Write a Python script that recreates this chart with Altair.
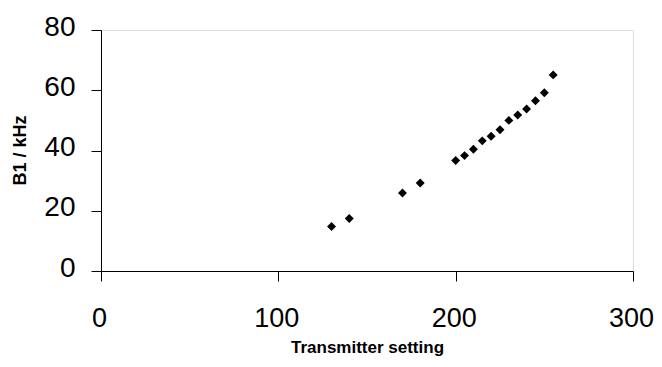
import altair as alt
import pandas as pd

transmitter = [130, 140, 170, 180, 200, 205, 210, 215, 220, 225, 230, 235, 240, 245, 250, 255]
b1_khz = [14.8, 17.4, 25.9, 29.2, 36.7, 38.3, 40.4, 43.2, 44.7, 46.9, 50.0, 51.8, 53.8, 56.5, 59.2, 65.1]

df = pd.DataFrame({"Transmitter setting": transmitter, "B1 / kHz": b1_khz})

FONT = "Liberation Sans"

chart = alt.Chart(df).mark_point(
    shape="diamond", filled=True, color="black", size=80, opacity=1
).encode(
    x=alt.X(
        "Transmitter setting:Q",
        scale=alt.Scale(domain=[0, 300], nice=False, zero=True),
        axis=alt.Axis(
            values=[0, 100, 200, 300],
            title="Transmitter setting",
            grid=False,
            domainColor="black",
            tickColor="black",
            tickSize=10,
            labelFont=FONT,
            labelFontSize=27,
            labelColor="black",
            labelPadding=24,
            labelFlush=False,
            labelOffset=-2,
            titleFont=FONT,
            titleFontSize=17,
            titleFontWeight="bold",
            titleColor="black",
            titleY=68,
            titleBaseline="top",
        ),
    ),
    y=alt.Y(
        "B1 / kHz:Q",
        scale=alt.Scale(domain=[0, 80], nice=False, zero=True),
        axis=alt.Axis(
            values=[0, 20, 40, 60, 80],
            title="B1 / kHz",
            grid=False,
            domainColor="black",
            tickColor="black",
            tickSize=10,
            labelFont=FONT,
            labelFontSize=28,
            labelColor="black",
            labelPadding=16,
            labelFlush=False,
            labelOffset=-3,
            titleFont=FONT,
            titleFontSize=18,
            titleFontWeight="bold",
            titleColor="black",
            titleX=-76,
            titleY=120,
            titleBaseline="alphabetic",
            titleAngle=270,
        ),
    ),
).properties(
    width=532,
    height=241,
    autosize=alt.AutoSizeParams(type="none"),
    padding={"left": 93, "top": 22, "right": 21, "bottom": 88},
).configure_view(stroke=None).configure(background="white")

chart.save("out.html", embed_options={"renderer": "svg", "actions": False})
